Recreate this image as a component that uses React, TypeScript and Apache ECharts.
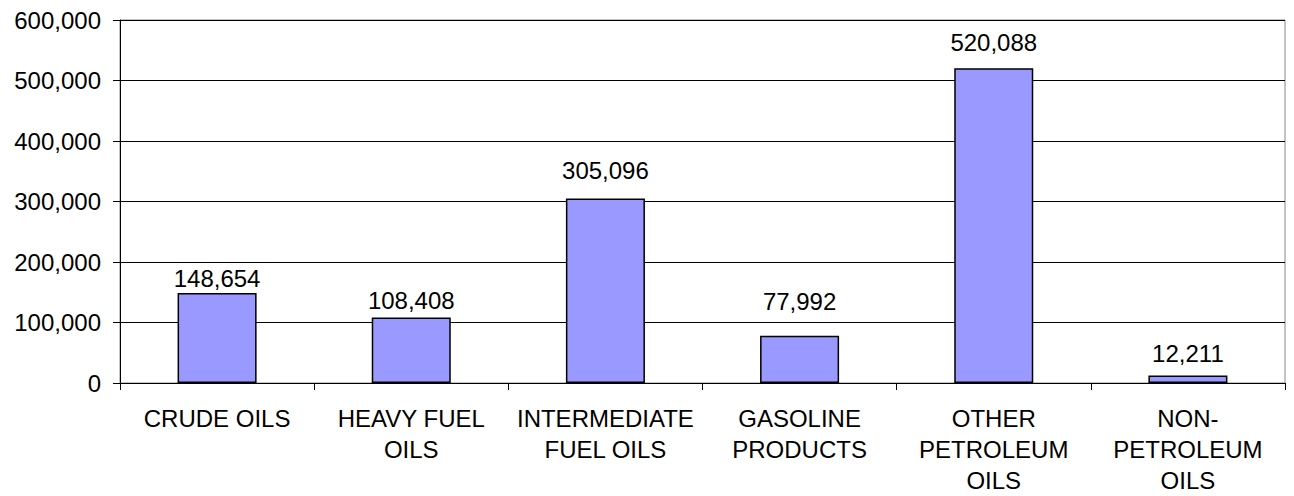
import React, { useEffect, useRef } from "react";
import * as echarts from "echarts";

const categories = [
  "CRUDE OILS",
  "HEAVY FUEL\nOILS",
  "INTERMEDIATE\nFUEL OILS",
  "GASOLINE\nPRODUCTS",
  "OTHER\nPETROLEUM\nOILS",
  "NON-\nPETROLEUM\nOILS",
];
const values = [148654, 108408, 305096, 77992, 520088, 12211];
// gap between each bar top and its value label (px), as seen in the reference
const labelGaps = [3, 5, 16, 22, 14, 10];

const fmt = (v: number) => v.toLocaleString("en-US");

export default function App() {
  const ref = useRef<HTMLDivElement>(null);
  useEffect(() => {
    if (!ref.current) return;
    const chart = echarts.init(ref.current, null, { renderer: "svg" });
    const font = "'Liberation Sans', Arial, sans-serif";
    chart.setOption({
      animation: false,
      grid: {
        left: 112,
        right: 1,
        top: 12,
        bottom: 113,
        outerBoundsMode: "none",
        containLabel: false,
        show: true,
        borderColor: "#888",
        borderWidth: 1,
      },
      xAxis: {
        type: "category",
        data: categories,
        axisLine: { lineStyle: { color: "#000" } },
        axisTick: { show: true, length: 7, lineStyle: { color: "#000" } },
        axisLabel: {
          interval: 0,
          color: "#000",
          fontSize: 24,
          fontFamily: font,
          lineHeight: 31,
          margin: 20,
        },
      },
      yAxis: {
        type: "value",
        min: 0,
        max: 600000,
        interval: 100000,
        axisLine: { show: true, lineStyle: { color: "#000" } },
        axisTick: { show: true, length: 7, lineStyle: { color: "#000" } },
        axisLabel: {
          color: "#000",
          fontSize: 24,
          fontFamily: font,
          margin: 19,
          formatter: (v: number) => fmt(v),
        },
        splitLine: { show: true, lineStyle: { color: "#000", width: 1 } },
      },
      series: [
        {
          type: "bar",
          data: values.map((v, i) => ({
            value: v,
            label: { distance: labelGaps[i] },
          })),
          barWidth: "40.7%",
          itemStyle: { color: "#9999FF", borderColor: "#000", borderWidth: 1.5 },
          label: {
            show: true,
            position: "top",
            color: "#000",
            fontSize: 24,
            fontFamily: font,
            formatter: (p: any) => fmt(p.value),
          },
        },
      ],
    });
    return () => chart.dispose();
  }, []);
  return <div ref={ref} style={{ width: 1278, height: 488 }} />;
}
